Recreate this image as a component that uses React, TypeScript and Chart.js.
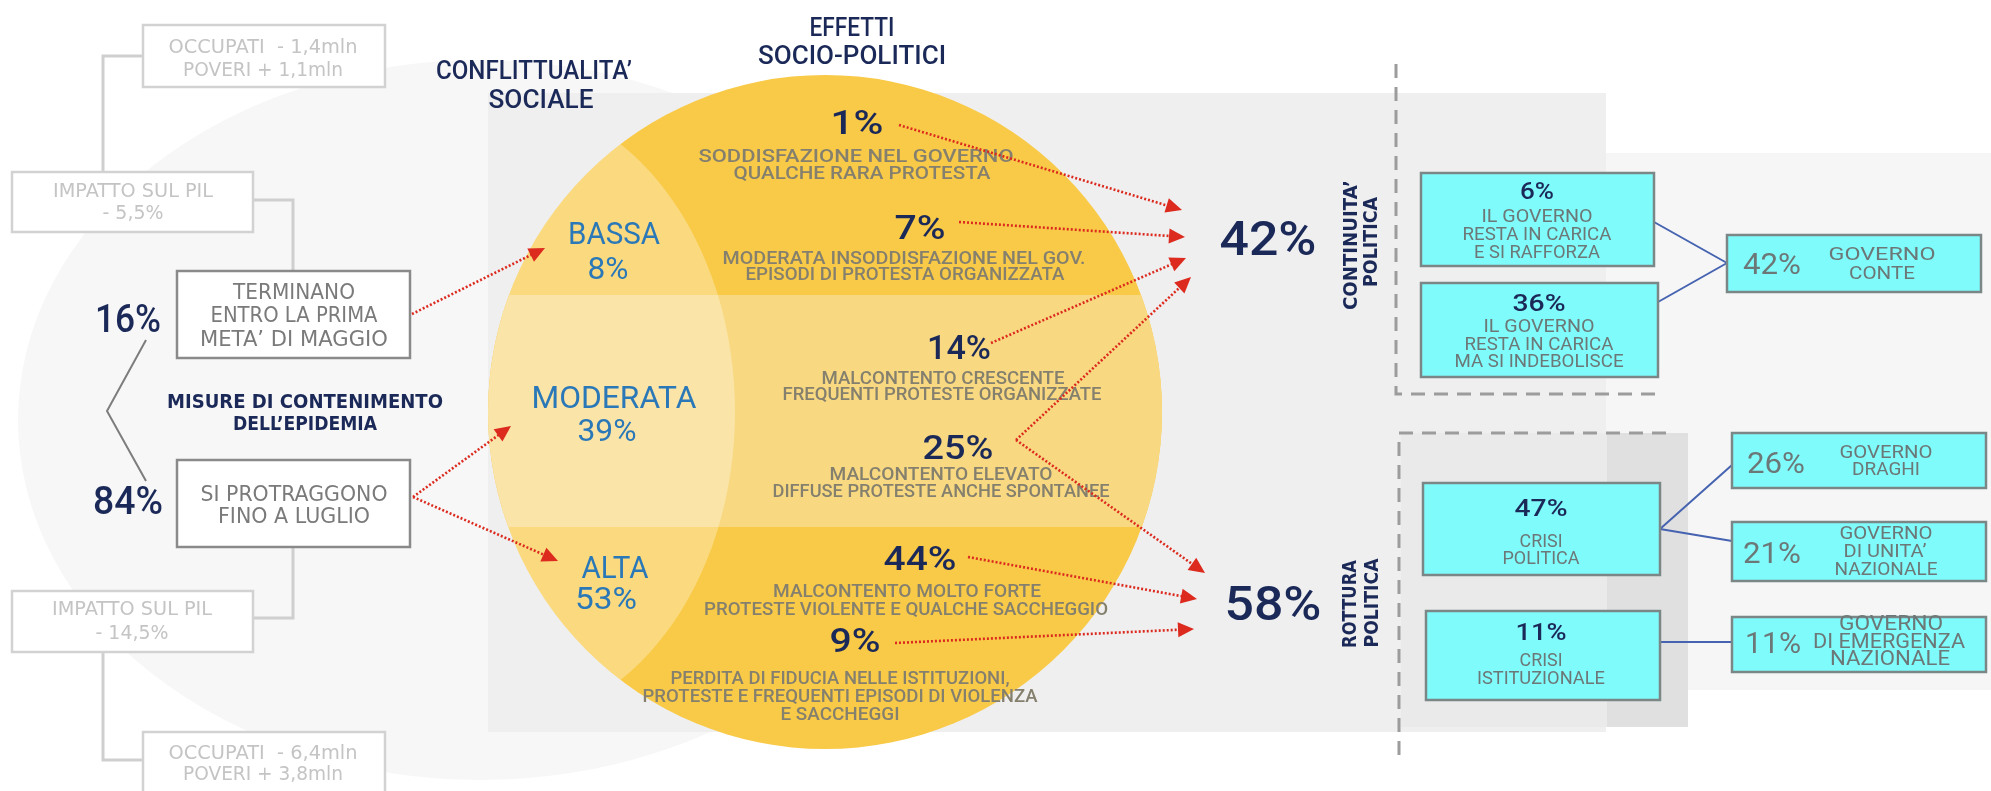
import React, { useEffect, useRef } from "react";
import { Chart, registerables } from "chart.js";
Chart.register(...registerables);

const W = 1991;
const H = 791;

// ---------------- data ----------------
const durationTitle = ["MISURE DI CONTENIMENTO", "DELL’EPIDEMIA"];
const durationShares = [16, 84];
const durationLines = [
  ["TERMINANO", "ENTRO LA PRIMA", "META’ DI MAGGIO"],
  ["SI PROTRAGGONO", "FINO A LUGLIO"],
];
const gdpLabel = "IMPATTO SUL PIL";
const gdpImpact = ["- 5,5%", "- 14,5%"];
const jobsImpact = ["OCCUPATI  - 1,4mln", "OCCUPATI  - 6,4mln"];
const povertyImpact = ["POVERI + 1,1mln", "POVERI + 3,8mln"];

const conflictTitle = ["CONFLITTUALITA’", "SOCIALE"];
const conflictLevels = ["BASSA", "MODERATA", "ALTA"];
const conflictShares = [8, 39, 53];
const durationToConflict = [[0, 0], [1, 1], [1, 2]];

const effectsTitle = ["EFFETTI", "SOCIO-POLITICI"];
const effectShares = [1, 7, 14, 25, 44, 9];
const effectLines = [
  ["SODDISFAZIONE NEL GOVERNO", "QUALCHE RARA PROTESTA"],
  ["MODERATA INSODDISFAZIONE NEL GOV.", "EPISODI DI PROTESTA ORGANIZZATA"],
  ["MALCONTENTO CRESCENTE", "FREQUENTI PROTESTE ORGANIZZATE"],
  ["MALCONTENTO ELEVATO", "DIFFUSE PROTESTE ANCHE SPONTANEE"],
  ["MALCONTENTO MOLTO FORTE", "PROTESTE VIOLENTE E QUALCHE SACCHEGGIO"],
  ["PERDITA DI FIDUCIA NELLE ISTITUZIONI,", "PROTESTE E FREQUENTI EPISODI DI VIOLENZA", "E SACCHEGGI"],
];
// [effect index, outcome index, arrow slot]
const effectToOutcome = [[0, 0, 0], [1, 0, 1], [2, 0, 2], [3, 0, 3], [3, 1, 0], [4, 1, 1], [5, 1, 2]];

const outcomeLabels = [["CONTINUITA’", "POLITICA"], ["ROTTURA", "POLITICA"]];
const outcomeShares = [42, 58];

const scenarioShares = [6, 36, 47, 11];
const scenarioLines = [
  ["IL GOVERNO", "RESTA IN CARICA", "E SI RAFFORZA"],
  ["IL GOVERNO", "RESTA IN CARICA", "MA SI INDEBOLISCE"],
  ["CRISI", "POLITICA"],
  ["CRISI", "ISTITUZIONALE"],
];
const governmentShares = [42, 26, 21, 11];
const governmentLines = [
  ["GOVERNO", "CONTE"],
  ["GOVERNO", "DRAGHI"],
  ["GOVERNO", "DI UNITA’", "NAZIONALE"],
  ["GOVERNO", "DI EMERGENZA", "NAZIONALE"],
];
const scenarioToGovernment = [[0, 0], [1, 0], [2, 1], [2, 2], [3, 3]];

// ---------------- layout & style ----------------
const NAVY = "#1b2958";
const BLUE = "#2b78b8";
const RED = "#dc2a1e";
const GREY_TXT = "#7a7a7a";
const LIGHT_TXT = "#c4c4c4";
const CIRCLE_TXT = "#85806e";
const CYAN = "#80fbfb";
const CYAN_BORDER = "#7b8686";
const BOX_TXT = "#6c7777";
const LINK = "#4563b0";
const FONT = "Roboto, 'Noto Sans', 'DejaVu Sans', sans-serif";
const GEO = "'DejaVu Sans', 'Noto Sans', sans-serif";

const L = {
  jobBox: [
    { x: 143, y: 25, w: 242, h: 62, cx: 263, ly: [46, 69], lw: [189, 160] },
    { x: 143, y: 732, w: 242, h: 62, cx: 263, ly: [752, 773], lw: [189, 160] },
  ],
  gdpBox: [
    { x: 12, y: 172, w: 241, h: 60, cx: 133, ly: [190, 212], lw: [160, 61] },
    { x: 12, y: 591, w: 241, h: 61, cx: 132, ly: [608, 632], lw: [160, 73] },
  ],
  durBox: [
    { x: 177, y: 271, w: 233, h: 87, cx: 294, ly: [291, 314, 338], lw: [122, 167, 188], out: [412, 314] },
    { x: 177, y: 460, w: 233, h: 87, cx: 294, ly: [493, 515], lw: [187, 152], out: [413, 497] },
  ],
  durPct: [{ x: 128, y: 318, w: 66 }, { x: 128, y: 500, w: 70 }],
  bracket: [[146, 340], [107, 411], [146, 481]],
  connectors: [
    [[143, 56], [103, 56], [103, 172]],
    [[253, 200], [293, 200], [293, 271]],
    [[293, 547], [293, 618], [253, 618]],
    [[103, 652], [103, 760], [143, 760]],
  ],
  durTitle: { x: 305, ly: [401, 423], lw: [276, 144] },
  conflictTitle: { x: [534, 541], ly: [70, 99], lw: [196, 105] },
  effectsTitle: { x: 852, ly: [27, 55], lw: [85, 188] },
  circle: { cx: 825, cy: 412, r: 337, band1: 295, band2: 527 },
  lens: { cx: 500, cy: 412, rx: 235, ry: 312 },
  level: [
    { x: 614, y: 233, w: 92, px: 608, py: 268, pw: 41 },
    { x: 614, y: 397, w: 165, px: 607, py: 430, pw: 59 },
    { x: 615, y: 567, w: 67, px: 606, py: 598, pw: 62 },
  ],
  levelTip: [[545, 248], [511, 426], [558, 561]],
  effect: [
    { x: 857, y: 122, w: 53, tx: [856, 862], ty: [155, 172], tw: [315, 257], a: [899, 125] },
    { x: 920, y: 227, w: 51, tx: [904, 905], ty: [257, 273], tw: [363, 319], a: [959, 222] },
    { x: 959, y: 347, w: 64, tx: [943, 942], ty: [377, 393], tw: [243, 319], a: [991, 343] },
    { x: 958, y: 447, w: 71, tx: [941, 941], ty: [473, 490], tw: [223, 337], a: [1016, 440] },
    { x: 920, y: 558, w: 73, tx: [907, 906], ty: [590, 608], tw: [268, 404], a: [968, 557] },
    { x: 855, y: 640, w: 51, tx: [840, 840, 840], ty: [677, 695, 713], tw: [339, 395, 119], a: [895, 643] },
  ],
  outcomeTips: [
    [[1182, 210], [1185, 237], [1186, 258], [1191, 277]],
    [[1205, 573], [1197, 599], [1194, 629]],
  ],
  outcomePct: [{ x: 1268, y: 238, w: 97 }, { x: 1273, y: 603, w: 97 }],
  outcomeLabel: [
    { x: [1350, 1370], y: [245, 242], w: [130, 90] },
    { x: [1349, 1371], y: [604, 603], w: [88, 89] },
  ],
  dashes: [
    [[1396, 64], [1396, 394], [1664, 394]],
    [[1666, 433], [1399, 433], [1399, 760]],
  ],
  scenario: [
    { x: 1421, y: 173, w: 233, h: 93, cx: 1537, py: 190, pw: 34, ly: [215, 233, 251], lw: [111, 149, 126], out: [1654, 222] },
    { x: 1421, y: 283, w: 237, h: 94, cx: 1539, py: 302, pw: 53, ly: [325, 343, 360], lw: [111, 149, 169], out: [1658, 302] },
    { x: 1423, y: 483, w: 237, h: 92, cx: 1541, py: 507, pw: 53, ly: [540, 557], lw: [43, 77], out: [1660, 529] },
    { x: 1426, y: 611, w: 234, h: 89, cx: 1541, py: 631, pw: 51, ly: [659, 677], lw: [43, 128], out: [1660, 642] },
  ],
  government: [
    { x: 1727, y: 235, w: 254, h: 57, px: 1772, py: 264, pw: 58, cx: [1882, 1882], ly: [253, 272], lw: [107, 66], fs: 19, in: [1727, 263] },
    { x: 1732, y: 433, w: 254, h: 55, px: 1776, py: 463, pw: 58, cx: [1886, 1886], ly: [451, 468], lw: [93, 68], fs: 19, in: [1732, 465] },
    { x: 1732, y: 522, w: 254, h: 59, px: 1772, py: 553, pw: 58, cx: [1886, 1885, 1886], ly: [532, 550, 568], lw: [93, 83, 103], fs: 19, in: [1732, 541] },
    { x: 1732, y: 617, w: 254, h: 55, px: 1773, py: 643, pw: 56, cx: [1891, 1889, 1890], ly: [622, 640, 657], lw: [104, 152, 120], fs: 21, in: [1732, 642] },
  ],
};

const infographic = {
  id: "infographic",
  beforeDraw(chart: any) {
    const ctx: CanvasRenderingContext2D = chart.ctx;
    const xs = chart.scales.x;
    const ys = chart.scales.y;
    const X = (v: number) => xs.getPixelForValue(v);
    const Y = (v: number) => ys.getPixelForValue(v);
    const DX = (v: number) => X(v) - X(0);
    const DY = (v: number) => Y(v) - Y(0);

    const text = (s: string, x: number, y: number, size: number, color: string, o: any = {}) => {
      ctx.save();
      ctx.font = `${o.weight || 400} ${size}px ${o.family || FONT}`;
      ctx.fillStyle = color;
      ctx.textAlign = "center";
      ctx.textBaseline = "alphabetic";
      const m = ctx.measureText(s).width;
      const sx = o.w ? DX(o.w) / m : 1;
      ctx.translate(X(x), Y(y));
      if (o.rot) ctx.rotate(o.rot);
      ctx.scale(sx, 1);
      ctx.fillText(s, 0, size * 0.36);
      ctx.restore();
    };
    const poly = (pts: number[][], color: string, width: number, dash: number[] = []) => {
      ctx.save();
      ctx.beginPath();
      pts.forEach((p, i) => (i ? ctx.lineTo(X(p[0]), Y(p[1])) : ctx.moveTo(X(p[0]), Y(p[1]))));
      ctx.setLineDash(dash);
      ctx.lineWidth = width;
      ctx.strokeStyle = color;
      ctx.lineJoin = "miter";
      ctx.stroke();
      ctx.restore();
    };
    const box = (b: any, fill: string, stroke: string, lw: number) => {
      ctx.save();
      ctx.fillStyle = fill;
      ctx.fillRect(X(b.x), Y(b.y), DX(b.w), DY(b.h));
      ctx.lineWidth = lw;
      ctx.strokeStyle = stroke;
      ctx.strokeRect(X(b.x), Y(b.y), DX(b.w), DY(b.h));
      ctx.restore();
    };
    const arrow = (a: number[], b: number[]) => {
      const x1 = X(a[0]), y1 = Y(a[1]), x2 = X(b[0]), y2 = Y(b[1]);
      const ang = Math.atan2(y2 - y1, x2 - x1);
      const c = Math.cos(ang), s = Math.sin(ang);
      const hl = 16, hw = 7.5;
      const bx = x2 - hl * c, by = y2 - hl * s;
      ctx.save();
      ctx.strokeStyle = RED;
      ctx.lineWidth = 2.6;
      ctx.setLineDash([2, 2]);
      ctx.beginPath();
      ctx.moveTo(x1, y1);
      ctx.lineTo(bx + 2 * c, by + 2 * s);
      ctx.stroke();
      ctx.setLineDash([]);
      ctx.fillStyle = RED;
      ctx.beginPath();
      ctx.moveTo(x2, y2);
      ctx.lineTo(bx - hw * s, by + hw * c);
      ctx.lineTo(bx + hw * s, by - hw * c);
      ctx.closePath();
      ctx.fill();
      ctx.restore();
    };

    // ---- backgrounds ----
    ctx.save();
    ctx.fillStyle = "#ffffff";
    ctx.fillRect(0, 0, chart.width, chart.height);
    ctx.fillStyle = "#f7f7f7";
    ctx.beginPath();
    ctx.ellipse(X(480), Y(420), DX(462), DY(360), 0, 0, Math.PI * 2);
    ctx.fill();
    ctx.fillStyle = "#f6f6f6";
    ctx.fillRect(X(1606), Y(153), DX(385), DY(537));
    ctx.fillStyle = "#efefef";
    ctx.fillRect(X(488), Y(93), DX(1118), DY(639));
    ctx.fillStyle = "#eaeaea";
    ctx.fillRect(X(1401), Y(433), DX(287), DY(294));
    ctx.fillStyle = "#e0e0e0";
    ctx.fillRect(X(1607), Y(433), DX(81), DY(294));
    ctx.restore();

    // ---- yellow circle with conflict bands ----
    const C = L.circle;
    ctx.save();
    ctx.beginPath();
    ctx.arc(X(C.cx), Y(C.cy), DX(C.r), 0, Math.PI * 2);
    ctx.clip();
    ctx.fillStyle = "#f9ca48";
    ctx.fillRect(X(C.cx - C.r), Y(C.cy - C.r), DX(2 * C.r), DY(2 * C.r));
    ctx.fillStyle = "#f8d982";
    ctx.fillRect(X(C.cx - C.r), Y(C.band1), DX(2 * C.r), DY(C.band2 - C.band1));
    ctx.fillStyle = "rgba(255,255,255,0.3)";
    ctx.beginPath();
    ctx.ellipse(X(L.lens.cx), Y(L.lens.cy), DX(L.lens.rx), DY(L.lens.ry), 0, 0, Math.PI * 2);
    ctx.fill();
    ctx.restore();

    // ---- left tree ----
    L.connectors.forEach((c) => poly(c, "#cfcfcf", 3));
    poly(L.bracket, "#7d7d7d", 2);
    L.jobBox.forEach((b, i) => {
      box(b, "#ffffff", "#d2d2d2", 2.5);
      text(jobsImpact[i], b.cx, b.ly[0], 19, LIGHT_TXT, { family: GEO, w: b.lw[0] });
      text(povertyImpact[i], b.cx, b.ly[1], 19, LIGHT_TXT, { family: GEO, w: b.lw[1] });
    });
    L.gdpBox.forEach((b, i) => {
      box(b, "#ffffff", "#d2d2d2", 2.5);
      text(gdpLabel, b.cx, b.ly[0], 19, LIGHT_TXT, { family: GEO, w: b.lw[0] });
      text(gdpImpact[i], b.cx, b.ly[1], 19, LIGHT_TXT, { family: GEO, w: b.lw[1] });
    });
    L.durBox.forEach((b, i) => {
      box(b, "#ffffff", "#8a8a8a", 2.5);
      durationLines[i].forEach((s, k) => text(s, b.cx, b.ly[k], 21, GREY_TXT, { family: GEO, w: b.lw[k] }));
      const p = L.durPct[i];
      text(`${durationShares[i]}%`, p.x, p.y, 38, NAVY, { weight: 500, w: p.w });
    });
    durationTitle.forEach((s, k) =>
      text(s, L.durTitle.x, L.durTitle.ly[k], 20, NAVY, { weight: 700, family: GEO, w: L.durTitle.lw[k] })
    );

    // ---- titles ----
    conflictTitle.forEach((s, k) =>
      text(s, L.conflictTitle.x[k], L.conflictTitle.ly[k], 26, NAVY, { weight: 500, w: L.conflictTitle.lw[k] })
    );
    effectsTitle.forEach((s, k) =>
      text(s, L.effectsTitle.x, L.effectsTitle.ly[k], 26, NAVY, { weight: 500, w: L.effectsTitle.lw[k] })
    );

    // ---- conflict levels ----
    conflictLevels.forEach((s, i) => {
      const p = L.level[i];
      text(s, p.x, p.y, 31, BLUE, { w: p.w });
      text(`${conflictShares[i]}%`, p.px, p.py, 31, BLUE, { w: p.pw });
    });

    // ---- effects ----
    effectShares.forEach((v, i) => {
      const p = L.effect[i];
      text(`${v}%`, p.x, p.y, 33, NAVY, { weight: 500, w: p.w });
      effectLines[i].forEach((s, k) => text(s, p.tx[k], p.ty[k], 19, CIRCLE_TXT, { weight: 500, w: p.tw[k] }));
    });

    // ---- dashed frames ----
    L.dashes.forEach((d) => poly(d, "#9c9c9c", 3, [14, 9]));

    // ---- arrows ----
    durationToConflict.forEach(([d, c]) => arrow(L.durBox[d].out, L.levelTip[c]));
    effectToOutcome.forEach(([e, o, slot]) => arrow(L.effect[e].a, L.outcomeTips[o][slot]));

    // ---- outcomes ----
    outcomeShares.forEach((v, i) => {
      const p = L.outcomePct[i];
      text(`${v}%`, p.x, p.y, 48, NAVY, { weight: 500, w: p.w });
      const lb = L.outcomeLabel[i];
      outcomeLabels[i].forEach((s, k) =>
        text(s, lb.x[k], lb.y[k], 19, NAVY, { weight: 700, family: GEO, w: lb.w[k], rot: -Math.PI / 2 })
      );
    });

    // ---- scenario links ----
    scenarioToGovernment.forEach(([s, g]) => poly([L.scenario[s].out, L.government[g].in], LINK, 2));

    // ---- scenario boxes ----
    scenarioShares.forEach((v, i) => {
      const b = L.scenario[i];
      box(b, CYAN, CYAN_BORDER, 2.5);
      text(`${v}%`, b.cx, b.py, 24, NAVY, { weight: 500, w: b.pw });
      scenarioLines[i].forEach((s, k) => text(s, b.cx, b.ly[k], 19, BOX_TXT, { w: b.lw[k] }));
    });

    // ---- government boxes ----
    governmentShares.forEach((v, i) => {
      const b = L.government[i];
      box(b, CYAN, CYAN_BORDER, 2.5);
      text(`${v}%`, b.px, b.py, 29, BOX_TXT, { w: b.pw });
      governmentLines[i].forEach((s, k) => text(s, b.cx[k], b.ly[k], b.fs, BOX_TXT, { w: b.lw[k] }));
    });
  },
};

export default function App() {
  const ref = useRef<HTMLCanvasElement>(null);
  useEffect(() => {
    if (!ref.current) return;
    const chart = new Chart(ref.current, {
      type: "scatter",
      data: { datasets: [{ data: [], pointRadius: 0 }] },
      options: {
        responsive: false,
        animation: false,
        events: [],
        layout: { padding: 0 },
        plugins: { legend: { display: false }, tooltip: { enabled: false } },
        scales: {
          x: { type: "linear", min: 0, max: W, display: false },
          y: { type: "linear", min: 0, max: H, reverse: true, display: false },
        },
      },
      plugins: [infographic],
    });
    return () => chart.destroy();
  }, []);
  return (
    <div style={{ position: "fixed", left: 0, top: 0, width: W, height: H, background: "#fff" }}>
      <canvas ref={ref} width={W} height={H} style={{ display: "block", width: W, height: H }} />
    </div>
  );
}
